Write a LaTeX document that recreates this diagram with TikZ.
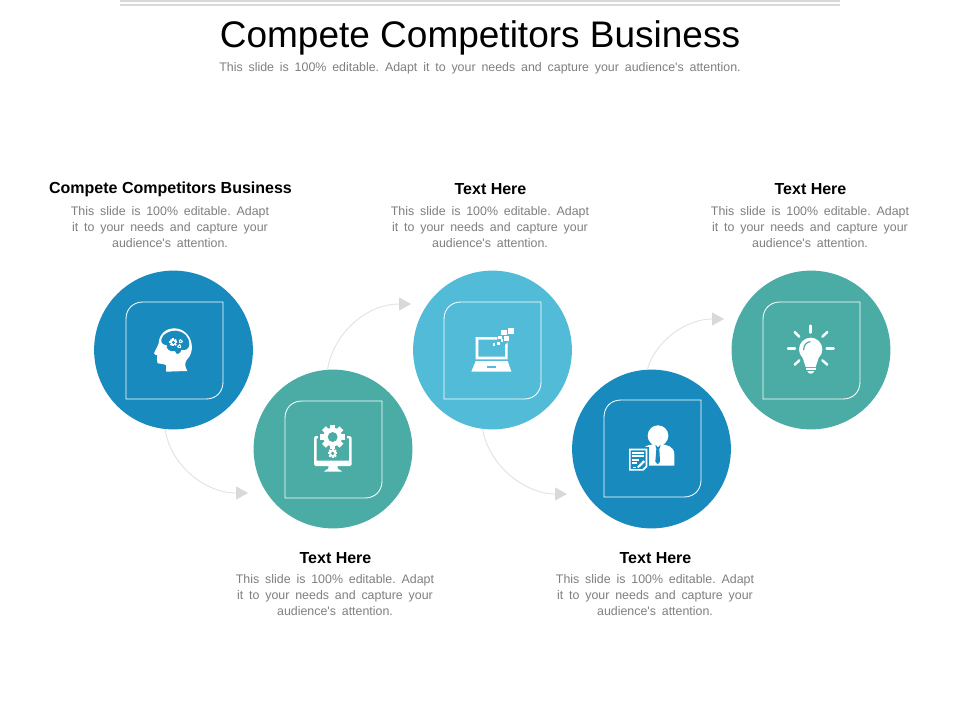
\documentclass[tikz,border=0pt]{standalone}
\usepackage{fontspec}
\setmainfont{Liberation Sans}
\newfontfamily\bodyfam[WordSpace=1.7]{Liberation Sans}
\usetikzlibrary{arrows.meta}
\definecolor{cblue}{RGB}{24,138,190}
\definecolor{cteal}{RGB}{75,172,166}
\definecolor{csky}{RGB}{82,187,215}
\definecolor{cbody}{RGB}{127,127,127}
\definecolor{carc}{RGB}{226,226,226}
\definecolor{chead}{RGB}{217,217,217}
\tikzset{
  disc/.style={circle,inner sep=0pt,minimum size=158.8pt,draw=none},
  frameline/.style={draw=white,line width=0.85pt},
  flow/.style={draw=carc,line width=0.9pt,-{Triangle[length=12pt,width=13pt,color=chead]}},
  headtxt/.style={font=\fontsize{16}{19}\selectfont\bfseries,text=black,inner sep=0pt},
  bodytxt/.style={font=\bodyfam\fontsize{12.4}{16}\selectfont,text=cbody,align=center,inner sep=0pt},
  zoomed/.style={x=0.33333pt,y=-0.33333pt}
}
\newcommand\cornerframe[2]{\draw[frameline,shift={(#1,#2)}] (17,0) -- (97,0) -- (97,80) .. controls (97,90) and (90,97) .. (80,97) -- (0,97) -- (0,17) .. controls (0,7) and (7,0) .. (17,0) -- cycle;}
\newcommand\gearshape[5]{%
  \fill[#5] (#1,#2) circle (#3*0.76);
  \foreach \a in {0,45,90,135}{\fill[#5,shift={(#1,#2)},rotate=\a] (-#3*0.22,-#3) rectangle (#3*0.22,#3);}
  \fill[#4] (#1,#2) circle (#3*0.4);}
\begin{document}
\frenchspacing
\begin{tikzpicture}[x=1pt,y=-1pt]
\useasboundingbox (0,0) rectangle (960,720);
\fill[white] (0,0) rectangle (960,720);
% top bars
\fill[chead] (120,0) rectangle (840,1.5);
\fill[chead] (120,4) rectangle (840,6);
% title
\node[font=\fontsize{37}{44}\selectfont,text=black,inner sep=0pt] (title) at (480,37.5) {Compete Competitors Business};
\node[bodytxt] (subtitle) at (480,68) {This slide is 100\% editable. Adapt it to your needs and capture your audience's attention.};
% circles
\node[disc,fill=cblue] (c1) at (173.5,350) {};
\node[disc,fill=cteal] (c2) at (333,449) {};
\node[disc,fill=csky] (c3) at (492.5,350) {};
\node[disc,fill=cblue] (c4) at (651.5,449) {};
\node[disc,fill=cteal] (c5) at (811,350) {};
% frames
\cornerframe{126}{302}
\cornerframe{285}{401}
\cornerframe{444}{302}
\cornerframe{604}{400}
\cornerframe{763}{302}
% connectors
\coordinate (e1) at (248,493);
\coordinate (e2) at (411,304);
\coordinate (e3) at (567,494);
\coordinate (e4) at (724,319);
\draw[flow] (c1.264) .. controls (170,465) and (205,493) .. (e1);
\draw[flow] (c2.94) .. controls (333,335) and (365,304) .. (e2);
\draw[flow] (c3.263) .. controls (488,465) and (525,494) .. (e3);
\draw[flow] (c4.93) .. controls (655,342) and (685,319) .. (e4);
% headings and bodies
\node[headtxt] (h1) at (170.5,189.5) {Compete Competitors Business};
\node[bodytxt] (b1) at (170,227) {This slide is 100\% editable. Adapt\\it to your needs and capture your\\audience's attention.};
\node[headtxt] (h3) at (490.5,189.5) {Text Here};
\node[bodytxt] (b3) at (490,227) {This slide is 100\% editable. Adapt\\it to your needs and capture your\\audience's attention.};
\node[headtxt] (h5) at (810.5,189.5) {Text Here};
\node[bodytxt] (b5) at (810,227) {This slide is 100\% editable. Adapt\\it to your needs and capture your\\audience's attention.};
\node[headtxt] (h2) at (335.5,558) {Text Here};
\node[bodytxt] (b2) at (335,595) {This slide is 100\% editable. Adapt\\it to your needs and capture your\\audience's attention.};
\node[headtxt] (h4) at (655.5,558) {Text Here};
\node[bodytxt] (b4) at (655,595) {This slide is 100\% editable. Adapt\\it to your needs and capture your\\audience's attention.};
% icon 1: head with brain
\begin{scope}[shift={(90,265)},zoomed]
\fill[white] (228,320) -- (292,318) .. controls (285,305) and (283,297) .. (290,285) .. controls (303,272) and (308,255) .. (305,238) .. controls (300,205) and (275,190) .. (253,190) .. controls (225,190) and (207,210) .. (206,235) .. controls (203,245) and (196,255) .. (192,265) .. controls (193,269) and (198,270) .. (202,271) .. controls (200,280) and (200,290) .. (203,295) .. controls (212,298) and (222,295) .. (228,300) -- cycle;
\fill[cblue] (214,224) .. controls (216,207) and (240,196) .. (258,197) .. controls (280,198) and (298,215) .. (298,238) .. controls (298,252) and (285,258) .. (275,254) .. controls (270,268) and (258,272) .. (255,258) .. controls (240,262) and (228,252) .. (230,240) .. controls (220,240) and (212,233) .. (214,224) -- cycle;
\gearshape{250}{232}{12}{cblue}{white}
\gearshape{272}{229}{6}{cblue}{white}
\gearshape{268}{244}{6}{cblue}{white}
\end{scope}
% icon 2: monitor with gears
\begin{scope}[shift={(250,365)},zoomed]
\fill[white] (197,213) -- (212,213) -- (212,220) -- (200,220) -- (200,287) -- (297,287) -- (297,220) -- (285,220) -- (285,213) -- (300,213) .. controls (303,213) and (305,215) .. (305,218) -- (305,298) .. controls (305,301) and (303,303) .. (300,303) -- (262,303) -- (264,312) .. controls (268,314) and (274,316) .. (276,320) -- (222,320) .. controls (224,316) and (230,314) .. (234,312) -- (236,303) -- (197,303) .. controls (194,303) and (192,301) .. (192,298) -- (192,218) .. controls (192,215) and (194,213) .. (197,213) -- cycle;
\fill[cteal] (205,205) rectangle (292,258);
\gearshape{248}{216}{37}{cteal}{white}
\gearshape{248}{265}{14}{cteal}{white}
\end{scope}
% icon 3: laptop with pixels
\begin{scope}[shift={(410,265)},zoomed]
\fill[white,even odd rule] (197,216) -- (262,216) -- (262,224) -- (205,224) -- (205,275) -- (285,275) -- (285,240) -- (293,232) -- (293,283) -- (197,283) -- cycle;
\fill[white] (197,288) -- (293,288) -- (304,320) -- (184,320) -- cycle;
\fill[csky] (230,302) rectangle (258,310);
\fill[white] (295,190) rectangle (312,207);
\fill[white] (274,196) rectangle (291,211);
\fill[white] (282,213) rectangle (296,229);
\fill[white] (265,212) rectangle (277,223);
\fill[white] (262,230) rectangle (270,240);
\fill[white] (249,234) rectangle (256,243);
\fill[white] (272,222) rectangle (280,231);
\end{scope}
% icon 4: person and document
\begin{scope}[shift={(568,365)},zoomed]
\fill[white] (270,212) circle (31);
\fill[white] (228,248) .. controls (236,240) and (248,240) .. (258,237) -- (282,237) .. controls (295,241) and (318,242) .. (319,268) -- (319,302) -- (228,302) -- cycle;
\fill[cblue] (262,240) -- (278,240) -- (274,252) -- (276,290) -- (269,298) -- (262,290) -- (265,252) -- cycle;
\fill[white] (263,240) -- (277,240) -- (270,246) -- cycle;
\fill[cblue] (176,246) rectangle (243,322);
\fill[white,even odd rule] (183,251) -- (238,251) -- (238,305) -- (226,317) -- (183,317) -- cycle (188,256) -- (188,312) -- (224,312) -- (233,303) -- (233,256) -- cycle;
\fill[white] (193,261) rectangle (228,266);
\fill[white] (193,271) rectangle (228,276);
\fill[white] (193,282) rectangle (214,287);
\fill[white] (193,292) rectangle (207,297);
\fill[white] (196,305) rectangle (204,308);
\fill[white] (207,306) -- (226,286) -- (231,291) -- (212,309) -- cycle;
\end{scope}
% icon 5: light bulb
\begin{scope}[shift={(728,265)},zoomed]
\fill[white] (248,253) circle (35);
\fill[white] (224,278) -- (272,278) -- (263,306) -- (233,306) -- cycle;
\fill[white] (234,309) rectangle (263,316);
\fill[white] (238,318) -- (259,318) .. controls (257,323) and (254,326) .. (248,326) .. controls (242,326) and (240,323) .. (238,318) -- cycle;
\draw[cteal,line width=1.2pt,line cap=round] (227,254) .. controls (227,240) and (235,232) .. (246,230);
\foreach \xa/\ya/\xb/\yb in {248/182/248/203, 180/251/201/251, 296/251/317/251, 200/201/214/215, 298/201/283/215, 200/299/214/286, 298/299/283/286}{
  \draw[white,line width=2.4pt,line cap=round] (\xa,\ya) -- (\xb,\yb);}
\end{scope}
\end{tikzpicture}
\end{document}
